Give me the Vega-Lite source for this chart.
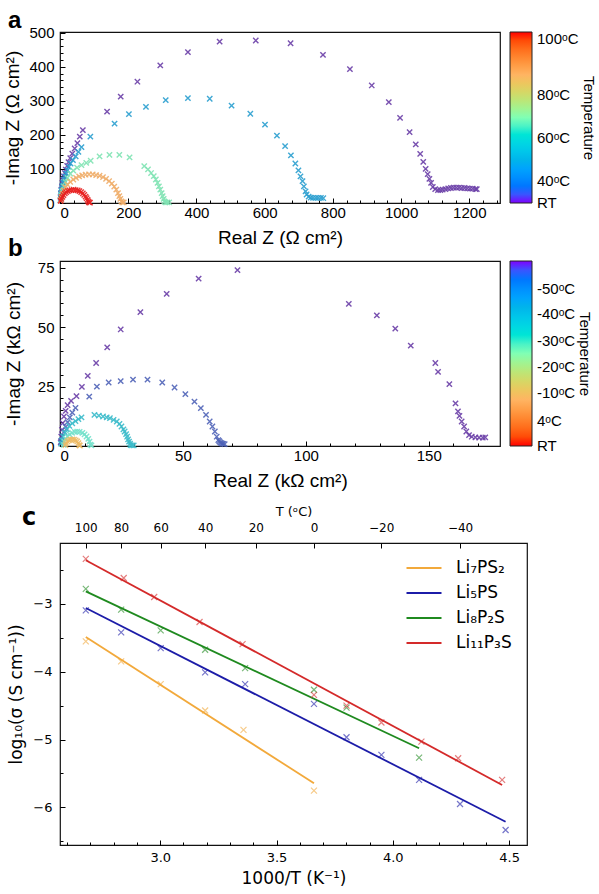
{
  "$schema": "https://vega.github.io/schema/vega-lite/v6.json",
  "background": "white",
  "autosize": "pad",
  "padding": {"left": 3, "top": 8, "right": 0, "bottom": 0},
  "bounds": "flush",
  "spacing": 58,
  "resolve": {"scale": {"color": "independent", "stroke": "independent"}, "legend": {"color": "independent"}},
  "datasets": {
    "imp_a": [
      {"re": 2, "im": 18, "t": 0}, {"re": 3, "im": 28, "t": 0}, {"re": 4, "im": 39, "t": 0}, {"re": 6, "im": 49, "t": 0},
      {"re": 7, "im": 59, "t": 0}, {"re": 9, "im": 68, "t": 0}, {"re": 11, "im": 78, "t": 0}, {"re": 14, "im": 88, "t": 0},
      {"re": 17, "im": 98, "t": 0}, {"re": 21, "im": 109, "t": 0}, {"re": 25, "im": 120, "t": 0}, {"re": 30, "im": 132, "t": 0},
      {"re": 36, "im": 145, "t": 0}, {"re": 43, "im": 160, "t": 0}, {"re": 51, "im": 176, "t": 0}, {"re": 58, "im": 195, "t": 0},
      {"re": 67, "im": 214, "t": 0}, {"re": 138, "im": 268, "t": 0}, {"re": 178, "im": 312, "t": 0}, {"re": 227, "im": 356, "t": 0},
      {"re": 294, "im": 404, "t": 0}, {"re": 375, "im": 443, "t": 0}, {"re": 468, "im": 474, "t": 0}, {"re": 574, "im": 477, "t": 0},
      {"re": 676, "im": 469, "t": 0}, {"re": 771, "im": 435, "t": 0}, {"re": 850, "im": 393, "t": 0}, {"re": 914, "im": 345, "t": 0},
      {"re": 964, "im": 296, "t": 0}, {"re": 997, "im": 250, "t": 0}, {"re": 1025, "im": 208, "t": 0}, {"re": 1043, "im": 172, "t": 0},
      {"re": 1056, "im": 144, "t": 0}, {"re": 1065, "im": 121, "t": 0}, {"re": 1072, "im": 100, "t": 0}, {"re": 1078, "im": 85, "t": 0},
      {"re": 1083, "im": 71, "t": 0}, {"re": 1088, "im": 59, "t": 0}, {"re": 1093, "im": 47, "t": 0}, {"re": 1100, "im": 41, "t": 0},
      {"re": 1108, "im": 38, "t": 0}, {"re": 1115, "im": 38, "t": 0}, {"re": 1122, "im": 39, "t": 0}, {"re": 1130, "im": 41, "t": 0},
      {"re": 1138, "im": 43, "t": 0}, {"re": 1146, "im": 44, "t": 0}, {"re": 1154, "im": 45, "t": 0}, {"re": 1162, "im": 45, "t": 0},
      {"re": 1170, "im": 45, "t": 0}, {"re": 1178, "im": 44, "t": 0}, {"re": 1186, "im": 44, "t": 0}, {"re": 1194, "im": 43, "t": 0},
      {"re": 1202, "im": 42, "t": 0}, {"re": 1210, "im": 42, "t": 0}, {"re": 1218, "im": 41, "t": 0}, {"re": 1222, "im": 41, "t": 0},
      {"re": 1, "im": 8, "t": 0.22}, {"re": 2, "im": 15, "t": 0.22}, {"re": 3, "im": 22, "t": 0.22}, {"re": 3, "im": 29, "t": 0.22},
      {"re": 4, "im": 36, "t": 0.22}, {"re": 6, "im": 44, "t": 0.22}, {"re": 7, "im": 52, "t": 0.22}, {"re": 9, "im": 61, "t": 0.22},
      {"re": 12, "im": 70, "t": 0.22}, {"re": 15, "im": 78, "t": 0.22}, {"re": 18, "im": 87, "t": 0.22}, {"re": 22, "im": 96, "t": 0.22},
      {"re": 26, "im": 106, "t": 0.22}, {"re": 31, "im": 116, "t": 0.22}, {"re": 38, "im": 126, "t": 0.22}, {"re": 46, "im": 137, "t": 0.22},
      {"re": 54, "im": 150, "t": 0.22}, {"re": 63, "im": 164, "t": 0.22}, {"re": 89, "im": 195, "t": 0.22}, {"re": 160, "im": 233, "t": 0.22},
      {"re": 202, "im": 261, "t": 0.22}, {"re": 252, "im": 282, "t": 0.22}, {"re": 310, "im": 302, "t": 0.22}, {"re": 375, "im": 308, "t": 0.22},
      {"re": 439, "im": 306, "t": 0.22}, {"re": 503, "im": 286, "t": 0.22}, {"re": 558, "im": 262, "t": 0.22}, {"re": 601, "im": 230, "t": 0.22},
      {"re": 636, "im": 198, "t": 0.22}, {"re": 660, "im": 167, "t": 0.22}, {"re": 677, "im": 140, "t": 0.22}, {"re": 690, "im": 116, "t": 0.22},
      {"re": 699, "im": 96, "t": 0.22}, {"re": 705, "im": 78, "t": 0.22}, {"re": 711, "im": 64, "t": 0.22}, {"re": 715, "im": 49, "t": 0.22},
      {"re": 720, "im": 34, "t": 0.22}, {"re": 723, "im": 25, "t": 0.22}, {"re": 729, "im": 19, "t": 0.22}, {"re": 735, "im": 16, "t": 0.22},
      {"re": 742, "im": 15, "t": 0.22}, {"re": 750, "im": 15, "t": 0.22}, {"re": 757, "im": 15, "t": 0.22}, {"re": 765, "im": 15, "t": 0.22},
      {"re": 772, "im": 14, "t": 0.22},
      {"re": 2, "im": 10, "t": 0.5}, {"re": 4, "im": 22, "t": 0.5}, {"re": 7, "im": 35, "t": 0.5}, {"re": 11, "im": 49, "t": 0.5},
      {"re": 16, "im": 62, "t": 0.5}, {"re": 22, "im": 74, "t": 0.5}, {"re": 30, "im": 86, "t": 0.5}, {"re": 39, "im": 95, "t": 0.5},
      {"re": 50, "im": 104, "t": 0.5}, {"re": 63, "im": 111, "t": 0.5}, {"re": 77, "im": 118, "t": 0.5}, {"re": 90, "im": 124, "t": 0.5},
      {"re": 116, "im": 137, "t": 0.5}, {"re": 145, "im": 141, "t": 0.5}, {"re": 174, "im": 141, "t": 0.5}, {"re": 204, "im": 134, "t": 0.5},
      {"re": 247, "im": 108, "t": 0.5}, {"re": 258, "im": 99, "t": 0.5}, {"re": 267, "im": 88, "t": 0.5}, {"re": 275, "im": 79, "t": 0.5},
      {"re": 281, "im": 69, "t": 0.5}, {"re": 286, "im": 59, "t": 0.5}, {"re": 290, "im": 49, "t": 0.5}, {"re": 294, "im": 39, "t": 0.5},
      {"re": 298, "im": 29, "t": 0.5}, {"re": 301, "im": 20, "t": 0.5}, {"re": 304, "im": 12, "t": 0.5}, {"re": 306, "im": 5, "t": 0.5},
      {"re": 309, "im": 2, "t": 0.5}, {"re": 314, "im": 2, "t": 0.5}, {"re": 320, "im": 2, "t": 0.5},
      {"re": 2, "im": 8, "t": 0.75}, {"re": 4, "im": 18, "t": 0.75}, {"re": 7, "im": 28, "t": 0.75}, {"re": 11, "im": 37, "t": 0.75},
      {"re": 16, "im": 46, "t": 0.75}, {"re": 22, "im": 54, "t": 0.75}, {"re": 30, "im": 62, "t": 0.75}, {"re": 39, "im": 69, "t": 0.75},
      {"re": 47, "im": 74, "t": 0.75}, {"re": 56, "im": 78, "t": 0.75}, {"re": 65, "im": 81, "t": 0.75}, {"re": 75, "im": 83, "t": 0.75},
      {"re": 85, "im": 84, "t": 0.75}, {"re": 96, "im": 84, "t": 0.75}, {"re": 106, "im": 82, "t": 0.75}, {"re": 116, "im": 80, "t": 0.75},
      {"re": 126, "im": 76, "t": 0.75}, {"re": 135, "im": 71, "t": 0.75}, {"re": 144, "im": 64, "t": 0.75}, {"re": 152, "im": 57, "t": 0.75},
      {"re": 159, "im": 48, "t": 0.75}, {"re": 165, "im": 39, "t": 0.75}, {"re": 170, "im": 29, "t": 0.75}, {"re": 174, "im": 20, "t": 0.75},
      {"re": 177, "im": 12, "t": 0.75}, {"re": 180, "im": 5, "t": 0.75}, {"re": 183, "im": 2, "t": 0.75}, {"re": 187, "im": 2, "t": 0.75},
      {"re": 2, "im": 6, "t": 1}, {"re": 4, "im": 12, "t": 1}, {"re": 7, "im": 18, "t": 1}, {"re": 10, "im": 23, "t": 1},
      {"re": 14, "im": 28, "t": 1}, {"re": 18, "im": 32, "t": 1}, {"re": 23, "im": 35, "t": 1}, {"re": 28, "im": 37, "t": 1},
      {"re": 34, "im": 38, "t": 1}, {"re": 40, "im": 39, "t": 1}, {"re": 46, "im": 38, "t": 1}, {"re": 52, "im": 37, "t": 1},
      {"re": 57, "im": 35, "t": 1}, {"re": 62, "im": 32, "t": 1}, {"re": 67, "im": 28, "t": 1}, {"re": 71, "im": 24, "t": 1},
      {"re": 75, "im": 19, "t": 1}, {"re": 78, "im": 14, "t": 1}, {"re": 81, "im": 9, "t": 1}, {"re": 83, "im": 5, "t": 1},
      {"re": 85, "im": 2, "t": 1}, {"re": 88, "im": 1, "t": 1}
    ],
    "imp_b": [
      {"re": 0.3, "im": 1.5, "t": 1}, {"re": 0.5, "im": 3.9, "t": 1}, {"re": 0.8, "im": 6.8, "t": 1}, {"re": 1.1, "im": 9.6, "t": 1},
      {"re": 1.6, "im": 12.4, "t": 1}, {"re": 2.3, "im": 14.8, "t": 1}, {"re": 3.1, "im": 17.2, "t": 1}, {"re": 4.5, "im": 19, "t": 1},
      {"re": 6.7, "im": 21, "t": 1}, {"re": 8.9, "im": 24.9, "t": 1}, {"re": 11.3, "im": 29.5, "t": 1}, {"re": 14.7, "im": 34.9, "t": 1},
      {"re": 19.2, "im": 41.5, "t": 1}, {"re": 24.7, "im": 49, "t": 1}, {"re": 32.7, "im": 56.3, "t": 1}, {"re": 43.4, "im": 64, "t": 1},
      {"re": 56.4, "im": 70.4, "t": 1}, {"re": 72.2, "im": 74, "t": 1}, {"re": 117.5, "im": 59.8, "t": 1}, {"re": 128.9, "im": 54.9, "t": 1},
      {"re": 136.4, "im": 49.4, "t": 1}, {"re": 142.7, "im": 42.2, "t": 1}, {"re": 152.7, "im": 34.9, "t": 1}, {"re": 153.8, "im": 31.2, "t": 1},
      {"re": 158.4, "im": 26, "t": 1}, {"re": 160.9, "im": 17.9, "t": 1}, {"re": 161.9, "im": 14.6, "t": 1}, {"re": 162.5, "im": 12.7, "t": 1},
      {"re": 163.4, "im": 10.3, "t": 1}, {"re": 164.4, "im": 8.2, "t": 1}, {"re": 165.3, "im": 6.1, "t": 1}, {"re": 166.4, "im": 4.6, "t": 1},
      {"re": 167.5, "im": 3.9, "t": 1}, {"re": 169, "im": 3.6, "t": 1}, {"re": 170.5, "im": 3.5, "t": 1}, {"re": 172, "im": 3.5, "t": 1},
      {"re": 173, "im": 3.6, "t": 1},
      {"re": 0.5, "im": 2, "t": 0.85}, {"re": 1, "im": 4, "t": 0.85}, {"re": 1.6, "im": 6, "t": 0.85}, {"re": 2.3, "im": 8, "t": 0.85},
      {"re": 3.1, "im": 10, "t": 0.85}, {"re": 4, "im": 12, "t": 0.85}, {"re": 5, "im": 14, "t": 0.85}, {"re": 6.3, "im": 16, "t": 0.85},
      {"re": 11.9, "im": 20.8, "t": 0.85}, {"re": 15, "im": 25, "t": 0.85}, {"re": 19.8, "im": 26.7, "t": 0.85}, {"re": 24.7, "im": 27.3, "t": 0.85},
      {"re": 29.7, "im": 27.9, "t": 0.85}, {"re": 35.6, "im": 27.9, "t": 0.85}, {"re": 41.6, "im": 26.7, "t": 0.85}, {"re": 46.6, "im": 24.6, "t": 0.85},
      {"re": 51, "im": 21.8, "t": 0.85}, {"re": 54.7, "im": 18.7, "t": 0.85}, {"re": 57.3, "im": 15.9, "t": 0.85}, {"re": 59.4, "im": 13.1, "t": 0.85},
      {"re": 60.9, "im": 10.3, "t": 0.85}, {"re": 62, "im": 8.2, "t": 0.85}, {"re": 63, "im": 6.1, "t": 0.85}, {"re": 63.75, "im": 3.9, "t": 0.85},
      {"re": 64.4, "im": 2.5, "t": 0.85}, {"re": 64.8, "im": 2, "t": 0.85}, {"re": 65.2, "im": 1.5, "t": 0.85}, {"re": 65.6, "im": 1.2, "t": 0.85},
      {"re": 66, "im": 1, "t": 0.85}, {"re": 66.4, "im": 0.9, "t": 0.85}, {"re": 67, "im": 0.8, "t": 0.85},
      {"re": 0.4, "im": 1, "t": 0.68}, {"re": 0.8, "im": 2.5, "t": 0.68}, {"re": 1.3, "im": 4, "t": 0.68}, {"re": 2, "im": 5.5, "t": 0.68},
      {"re": 2.8, "im": 7, "t": 0.68}, {"re": 3.8, "im": 8.5, "t": 0.68}, {"re": 5, "im": 9.5, "t": 0.68}, {"re": 6.3, "im": 10.5, "t": 0.68},
      {"re": 7.5, "im": 11.3, "t": 0.68}, {"re": 8.75, "im": 12, "t": 0.68}, {"re": 14, "im": 13.1, "t": 0.68}, {"re": 15.8, "im": 12.8, "t": 0.68},
      {"re": 17.5, "im": 12.4, "t": 0.68}, {"re": 19, "im": 12, "t": 0.68}, {"re": 20.3, "im": 11.7, "t": 0.68}, {"re": 21.8, "im": 11, "t": 0.68},
      {"re": 23.1, "im": 10.3, "t": 0.68}, {"re": 24.2, "im": 9.3, "t": 0.68}, {"re": 25, "im": 8.2, "t": 0.68}, {"re": 25.8, "im": 7, "t": 0.68},
      {"re": 26.3, "im": 6.1, "t": 0.68}, {"re": 26.9, "im": 5, "t": 0.68}, {"re": 27.3, "im": 3.9, "t": 0.68}, {"re": 27.7, "im": 2.8, "t": 0.68},
      {"re": 28.1, "im": 1.8, "t": 0.68}, {"re": 28.5, "im": 1, "t": 0.68}, {"re": 28.75, "im": 0.4, "t": 0.68}, {"re": 29.3, "im": 0.3, "t": 0.68},
      {"re": 30, "im": 0.3, "t": 0.68},
      {"re": 1.5, "im": 0.5, "t": 0.55}, {"re": 1.8, "im": 1.8, "t": 0.55}, {"re": 2.3, "im": 3, "t": 0.55}, {"re": 3, "im": 4, "t": 0.55},
      {"re": 3.9, "im": 4.9, "t": 0.55}, {"re": 4.9, "im": 5.5, "t": 0.55}, {"re": 6, "im": 5.9, "t": 0.55}, {"re": 7, "im": 6, "t": 0.55},
      {"re": 8, "im": 5.9, "t": 0.55}, {"re": 9.1, "im": 5.5, "t": 0.55}, {"re": 10, "im": 4.9, "t": 0.55}, {"re": 10.8, "im": 4, "t": 0.55},
      {"re": 11.5, "im": 3, "t": 0.55}, {"re": 12, "im": 1.8, "t": 0.55}, {"re": 12.3, "im": 0.6, "t": 0.55}, {"re": 12.8, "im": 0.3, "t": 0.55},
      {"re": 2.2, "im": 0.4, "t": 0.28}, {"re": 2.5, "im": 1.2, "t": 0.28}, {"re": 3, "im": 1.9, "t": 0.28}, {"re": 3.6, "im": 2.4, "t": 0.28},
      {"re": 4.3, "im": 2.7, "t": 0.28}, {"re": 5, "im": 2.8, "t": 0.28}, {"re": 5.7, "im": 2.7, "t": 0.28}, {"re": 6.4, "im": 2.4, "t": 0.28},
      {"re": 7, "im": 1.9, "t": 0.28}, {"re": 7.5, "im": 1.2, "t": 0.28}, {"re": 7.8, "im": 0.4, "t": 0.28}, {"re": 8.1, "im": 0.2, "t": 0.28}
    ],
    "cond_pts": [
      {"compound": "Li₇PS₂", "invT": 2.680, "logsigma": -3.552}, {"compound": "Li₇PS₂", "invT": 2.832, "logsigma": -3.847},
      {"compound": "Li₇PS₂", "invT": 3.002, "logsigma": -4.182}, {"compound": "Li₇PS₂", "invT": 3.193, "logsigma": -4.571},
      {"compound": "Li₇PS₂", "invT": 3.358, "logsigma": -4.857}, {"compound": "Li₇PS₂", "invT": 3.661, "logsigma": -5.754},
      {"compound": "Li₅PS", "invT": 2.680, "logsigma": -3.094}, {"compound": "Li₅PS", "invT": 2.832, "logsigma": -3.419},
      {"compound": "Li₅PS", "invT": 3.002, "logsigma": -3.650}, {"compound": "Li₅PS", "invT": 3.193, "logsigma": -4.010},
      {"compound": "Li₅PS", "invT": 3.365, "logsigma": -4.182}, {"compound": "Li₅PS", "invT": 3.661, "logsigma": -4.473},
      {"compound": "Li₅PS", "invT": 3.801, "logsigma": -4.966}, {"compound": "Li₅PS", "invT": 3.951, "logsigma": -5.227},
      {"compound": "Li₅PS", "invT": 4.113, "logsigma": -5.596}, {"compound": "Li₅PS", "invT": 4.289, "logsigma": -5.951},
      {"compound": "Li₅PS", "invT": 4.485, "logsigma": -6.335},
      {"compound": "Li₈P₂S", "invT": 2.680, "logsigma": -2.778}, {"compound": "Li₈P₂S", "invT": 2.832, "logsigma": -3.084},
      {"compound": "Li₈P₂S", "invT": 3.002, "logsigma": -3.389}, {"compound": "Li₈P₂S", "invT": 3.193, "logsigma": -3.675},
      {"compound": "Li₈P₂S", "invT": 3.365, "logsigma": -3.946}, {"compound": "Li₈P₂S", "invT": 3.661, "logsigma": -4.266},
      {"compound": "Li₈P₂S", "invT": 3.801, "logsigma": -4.530}, {"compound": "Li₈P₂S", "invT": 4.113, "logsigma": -5.266},
      {"compound": "Li₁₁P₃S", "invT": 2.680, "logsigma": -2.335}, {"compound": "Li₁₁P₃S", "invT": 2.843, "logsigma": -2.616},
      {"compound": "Li₁₁P₃S", "invT": 2.974, "logsigma": -2.897}, {"compound": "Li₁₁P₃S", "invT": 3.169, "logsigma": -3.266},
      {"compound": "Li₁₁P₃S", "invT": 3.354, "logsigma": -3.591}, {"compound": "Li₁₁P₃S", "invT": 3.661, "logsigma": -4.340},
      {"compound": "Li₁₁P₃S", "invT": 3.801, "logsigma": -4.500}, {"compound": "Li₁₁P₃S", "invT": 3.951, "logsigma": -4.749},
      {"compound": "Li₁₁P₃S", "invT": 4.123, "logsigma": -5.030}, {"compound": "Li₁₁P₃S", "invT": 4.281, "logsigma": -5.276},
      {"compound": "Li₁₁P₃S", "invT": 4.470, "logsigma": -5.596}
    ],
    "cond_fit": [
      {"compound": "Li₇PS₂", "invT": 2.680, "logsigma": -3.488}, {"compound": "Li₇PS₂", "invT": 3.661, "logsigma": -5.645},
      {"compound": "Li₅PS", "invT": 2.680, "logsigma": -3.059}, {"compound": "Li₅PS", "invT": 4.485, "logsigma": -6.212},
      {"compound": "Li₈P₂S", "invT": 2.680, "logsigma": -2.813}, {"compound": "Li₈P₂S", "invT": 4.113, "logsigma": -5.128},
      {"compound": "Li₁₁P₃S", "invT": 2.680, "logsigma": -2.355}, {"compound": "Li₁₁P₃S", "invT": 4.470, "logsigma": -5.670}
    ]
  },
  "vconcat": [
    {
      "width": 440,
      "height": 171,
      "title": {"text": "a", "anchor": "start", "frame": "group", "dx": -52, "offset": -26, "baseline": "alphabetic", "fontSize": 24, "fontWeight": "bold", "font": "Liberation Sans", "color": "#000"},
      "data": {"name": "imp_a"},
      "layer": [
        {
          "mark": {"type": "point", "shape": "M-1,-1L1,1M-1,1L1,-1", "filled": false, "size": 28, "strokeWidth": 1.4, "opacity": 0.9},
          "encoding": {
            "x": {"field": "re", "type": "quantitative", "scale": {"domain": [0, 1290], "nice": false, "zero": false},
                  "axis": {"values": [0, 200, 400, 600, 800, 1000, 1200], "format": "d", "title": "Real Z (Ω cm²)", "labelFontSize": 15, "titleFontSize": 19, "labelPadding": 7, "titlePadding": 8}},
            "y": {"field": "im", "type": "quantitative", "scale": {"domain": [0, 502], "nice": false, "zero": false},
                  "axis": {"values": [0, 100, 200, 300, 400, 500], "format": "d", "title": "-Imag Z (Ω cm²)", "labelFontSize": 15, "titleFontSize": 19, "labelPadding": 11, "titlePadding": 6}},
            "stroke": {"field": "t", "type": "quantitative", "legend": null,
                       "scale": {"domain": [0, 0.22, 0.5, 0.75, 1], "range": ["#6b3fa8", "#2a9fd0", "#80e4b4", "#f0ae6a", "#e82020"]}}
          }
        },
        {
          "mark": {"type": "point", "opacity": 0},
          "encoding": {
            "x": {"field": "re", "type": "quantitative", "scale": {"domain": [0, 1290], "nice": false, "zero": false},
                  "axis": {"orient": "bottom", "values": [0, 40, 80, 120, 160, 200, 240, 280, 320, 360, 400, 440, 480, 520, 560, 600, 640, 680, 720, 760, 800, 840, 880, 920, 960, 1000, 1040, 1080, 1120, 1160, 1200, 1240, 1280], "labels": false, "title": null, "tickSize": -3}},
            "y": {"field": "im", "type": "quantitative", "scale": {"domain": [0, 502], "nice": false, "zero": false},
                  "axis": {"orient": "left", "values": [0, 20, 40, 60, 80, 100, 120, 140, 160, 180, 200, 220, 240, 260, 280, 300, 320, 340, 360, 380, 400, 420, 440, 460, 480, 500], "labels": false, "title": null, "tickSize": -3}},
            "color": {"field": "t", "type": "quantitative",
                      "scale": {"domain": [0, 0.25, 0.5, 0.75, 1], "range": ["#8000ff", "#00b4eb", "#80ffb4", "#ffb462", "#ff0000"]},
                      "legend": {"title": "Temperature", "titleOrient": "right", "titleAngle": 270, "titleAnchor": "middle", "titleFontSize": 15, "titleFontWeight": "normal", "titlePadding": 2,
                                 "gradientLength": 171, "gradientThickness": 22, "gradientStrokeColor": "#222", "gradientStrokeWidth": 1,
                                 "values": [-0.045, 0.131, 0.381, 0.629, 1],
                                 "labelExpr": "datum.value < 0.05 ? 'RT' : datum.value < 0.2 ? '40ᵒC' : datum.value < 0.5 ? '60ᵒC' : datum.value < 0.8 ? '80ᵒC' : '100ᵒC'",
                                 "labelFontSize": 15, "labelOverlap": false, "labelBaseline": "middle", "labelOffset": 5, "offset": 10}}
          }
        }
      ],
      "resolve": {"axis": {"x": "independent", "y": "independent"}}
    },
    {
      "bounds": "flush",
      "spacing": 97,
      "resolve": {"scale": {"color": "independent", "stroke": "independent"}, "legend": {"color": "independent"}},
      "vconcat": [
        {
          "width": 440,
          "height": 185,
          "title": {"text": "b", "anchor": "start", "frame": "group", "dx": -52, "offset": -19, "baseline": "alphabetic", "fontSize": 24, "fontWeight": "bold", "font": "Liberation Sans", "color": "#000"},
          "data": {"name": "imp_b"},
          "layer": [
            {
              "mark": {"type": "point", "shape": "M-1,-1L1,1M-1,1L1,-1", "filled": false, "size": 28, "strokeWidth": 1.4, "opacity": 0.9},
              "encoding": {
                "x": {"field": "re", "type": "quantitative", "scale": {"domain": [0, 179], "nice": false, "zero": false},
                      "axis": {"values": [0, 50, 100, 150], "title": "Real Z (kΩ cm²)", "labelFontSize": 15, "titleFontSize": 19, "labelPadding": 7, "titlePadding": 8}},
                "y": {"field": "im", "type": "quantitative", "scale": {"domain": [0, 77.8], "nice": false, "zero": false},
                      "axis": {"values": [0, 25, 50, 75], "title": "-Imag Z (kΩ cm²)", "labelFontSize": 15, "titleFontSize": 19, "labelPadding": 11, "titlePadding": 14}},
                "stroke": {"field": "t", "type": "quantitative", "legend": null,
                           "scale": {"domain": [0.28, 0.55, 0.68, 0.85, 1], "range": ["#eebb66", "#74e2cc", "#3cbccb", "#4f63b8", "#6b3fa8"]}}
              }
            },
            {
              "mark": {"type": "point", "opacity": 0},
              "encoding": {
                "x": {"field": "re", "type": "quantitative", "scale": {"domain": [0, 179], "nice": false, "zero": false},
                      "axis": {"orient": "bottom", "values": [0, 10, 20, 30, 40, 50, 60, 70, 80, 90, 100, 110, 120, 130, 140, 150, 160, 170], "labels": false, "title": null, "tickSize": -3}},
                "y": {"field": "im", "type": "quantitative", "scale": {"domain": [0, 77.8], "nice": false, "zero": false},
                      "axis": {"orient": "left", "values": [0, 5, 10, 15, 20, 25, 30, 35, 40, 45, 50, 55, 60, 65, 70, 75], "labels": false, "title": null, "tickSize": -3}},
                "color": {"field": "t", "type": "quantitative",
                          "scale": {"domain": [0, 0.25, 0.5, 0.75, 1], "range": ["#ff0000", "#ffb462", "#80ffb4", "#00b4eb", "#8000ff"]},
                          "legend": {"title": "Temperature", "titleOrient": "right", "titleAngle": 270, "titleAnchor": "middle", "titleFontSize": 15, "titleFontWeight": "normal", "titlePadding": 2,
                                     "gradientLength": 185, "gradientThickness": 22, "gradientStrokeColor": "#222", "gradientStrokeWidth": 1,
                                     "values": [-0.043, 0.135, 0.288, 0.426, 0.568, 0.712, 0.847],
                                     "labelExpr": "datum.value < 0.05 ? 'RT' : datum.value < 0.2 ? '4ᵒC' : datum.value < 0.35 ? '-10ᵒC' : datum.value < 0.5 ? '-20ᵒC' : datum.value < 0.65 ? '-30ᵒC' : datum.value < 0.8 ? '-40ᵒC' : '-50ᵒC'",
                                     "labelFontSize": 15, "labelOverlap": false, "labelBaseline": "middle", "labelOffset": 5, "offset": 10}}
              }
            }
          ],
          "resolve": {"axis": {"x": "independent", "y": "independent"}}
        },
        {
          "width": 467,
          "height": 302,
          "title": {"text": "c", "anchor": "start", "frame": "group", "dx": -38, "offset": -44, "baseline": "alphabetic", "fontSize": 24, "fontWeight": "bold", "font": "DejaVu Sans", "color": "#000"},
          "layer": [
            {
              "data": {"name": "cond_fit"},
              "mark": {"type": "line", "strokeWidth": 1.8},
              "encoding": {
                "x": {"field": "invT", "type": "quantitative", "scale": {"domain": [2.569, 4.577], "nice": false, "zero": false},
                      "axis": {"orient": "bottom", "values": [3.0, 3.5, 4.0, 4.5], "format": ".1f", "title": "1000/T (K⁻¹)", "labelFont": "DejaVu Sans", "titleFont": "DejaVu Sans", "labelFontSize": 13, "titleFontSize": 17, "labelPadding": 11, "titlePadding": 6}},
                "y": {"field": "logsigma", "type": "quantitative", "scale": {"domain": [-6.556, -2.1], "nice": false, "zero": false},
                      "axis": {"orient": "left", "values": [-6, -5, -4, -3], "format": "d", "title": "log₁₀(σ (S cm⁻¹))", "labelFont": "DejaVu Sans", "titleFont": "DejaVu Sans", "labelFontSize": 13, "titleFontSize": 17, "labelPadding": 13, "titlePadding": 7}},
                "color": {"field": "compound", "type": "nominal",
                          "scale": {"domain": ["Li₇PS₂", "Li₅PS", "Li₈P₂S", "Li₁₁P₃S"], "range": ["#f2a93b", "#1c1ca8", "#1f8a1f", "#d42a2a"]},
                          "legend": {"orient": "top-right", "title": null, "symbolType": "M-2,0L2,0", "symbolSize": 306, "symbolStrokeWidth": 2, "labelFont": "DejaVu Sans", "labelFontSize": 17, "labelOffset": 22, "rowPadding": 7, "offset": 15, "padding": 0}}
              }
            },
            {
              "data": {"name": "cond_pts"},
              "mark": {"type": "point", "shape": "M-1,-1L1,1M-1,1L1,-1", "filled": false, "size": 36, "strokeWidth": 1.2, "opacity": 0.6},
              "encoding": {
                "x": {"field": "invT", "type": "quantitative", "scale": {"domain": [2.569, 4.577], "nice": false, "zero": false},
                      "axis": {"orient": "top", "values": [2.6799, 2.8317, 3.0017, 3.1934, 3.4112, 3.6609, 3.9502, 4.2891], "labelExpr": "format(1000/datum.value - 273.15, '.0f')", "title": "T (ᵒC)", "labelFont": "DejaVu Sans", "titleFont": "DejaVu Sans", "labelFontSize": 12, "titleFontSize": 13, "labelPadding": 14, "titlePadding": 3}},
                "y": {"field": "logsigma", "type": "quantitative", "scale": {"domain": [-6.556, -2.1], "nice": false, "zero": false},
                      "axis": {"orient": "left", "values": [-6.5, -6, -5.5, -5, -4.5, -4, -3.5, -3, -2.5], "labels": false, "title": null, "tickSize": -3}},
                "color": {"field": "compound", "type": "nominal", "legend": null}
              }
            },
            {
              "data": {"name": "cond_pts"},
              "mark": {"type": "point", "opacity": 0},
              "encoding": {
                "x": {"field": "invT", "type": "quantitative", "scale": {"domain": [2.569, 4.577], "nice": false, "zero": false},
                      "axis": {"orient": "bottom", "values": [2.6, 2.7, 2.8, 2.9, 3.0, 3.1, 3.2, 3.3, 3.4, 3.5, 3.6, 3.7, 3.8, 3.9, 4.0, 4.1, 4.2, 4.3, 4.4, 4.5], "labels": false, "title": null, "tickSize": -3}},
                "y": {"field": "logsigma", "type": "quantitative", "scale": {"domain": [-6.556, -2.1], "nice": false, "zero": false}, "axis": null}
              }
            }
          ],
          "resolve": {"axis": {"x": "independent", "y": "independent"}}
        }
      ]
    }
  ],
  "config": {
    "font": "Liberation Sans",
    "view": {"stroke": "#111", "strokeWidth": 1.2},
    "axis": {"domain": false, "grid": false, "tickColor": "#000", "tickSize": -5, "tickWidth": 1, "labelColor": "#000", "titleColor": "#000", "titleFontWeight": "normal", "labelFont": "Liberation Sans", "titleFont": "Liberation Sans"},
    "legend": {"labelColor": "#000", "titleColor": "#000", "labelFont": "Liberation Sans", "titleFont": "Liberation Sans"},
    "title": {"color": "#000"}
  }
}
